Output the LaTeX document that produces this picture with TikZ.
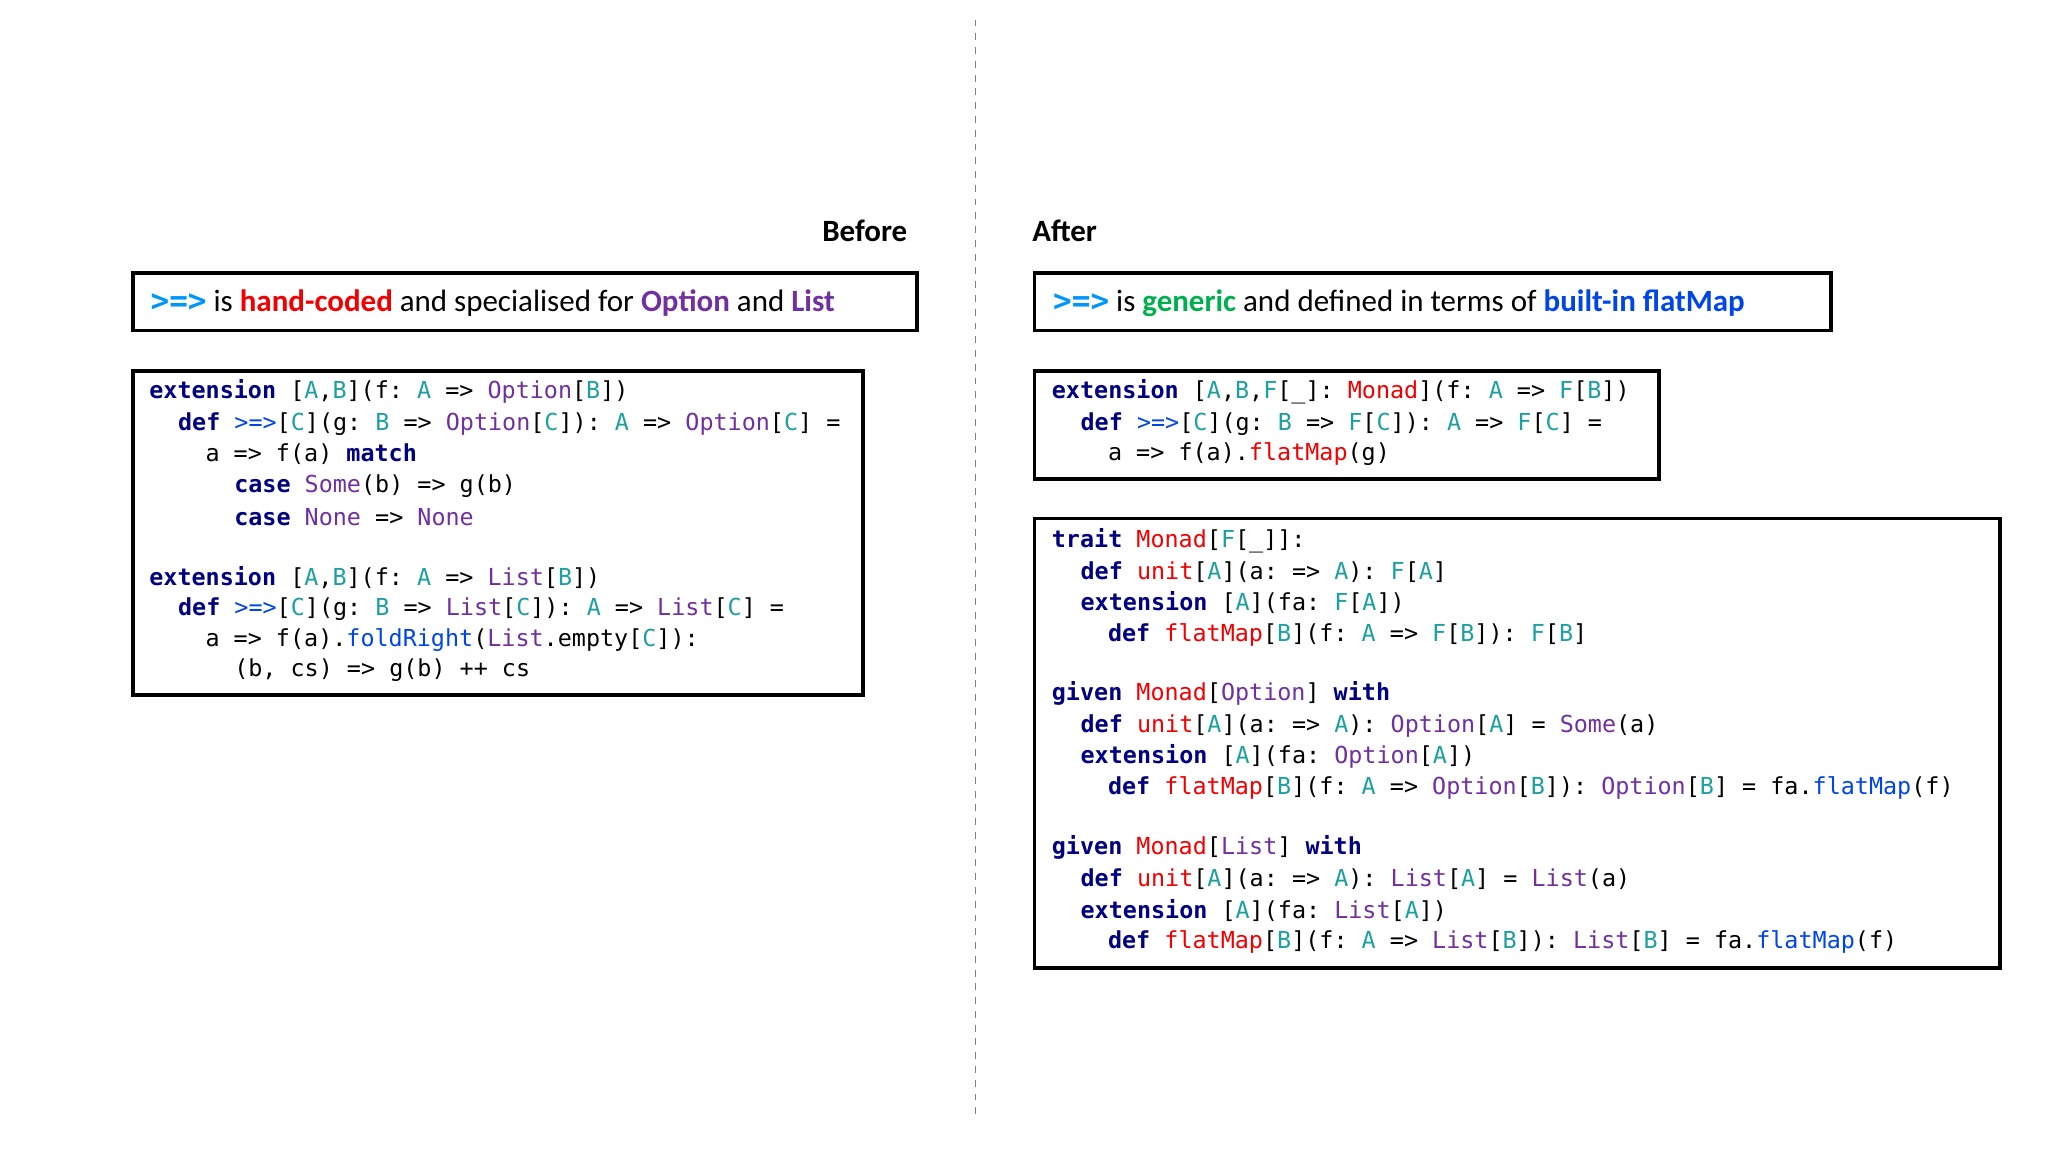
\documentclass[tikz,border=0pt]{standalone}
\usepackage{fontspec}
\setmainfont{Carlito}
\setmonofont{DejaVu Sans Mono}
\definecolor{kwc}{RGB}{0,0,128}
\definecolor{tpc}{RGB}{30,160,160}
\definecolor{puc}{RGB}{112,48,160}
\definecolor{rdc}{RGB}{240,0,0}
\definecolor{blc}{RGB}{0,70,230}
\definecolor{hbc}{RGB}{0,150,250}
\definecolor{grc}{RGB}{0,176,80}
\newcommand{\kw}[1]{\textbf{\textcolor{kwc}{#1}}}
\newcommand{\tp}[1]{\textcolor{tpc}{#1}}
\newcommand{\ty}[1]{\textcolor{puc}{#1}}
\newcommand{\rd}[1]{\textcolor{rdc}{#1}}
\newcommand{\bl}[1]{\textcolor{blc}{#1}}
\newcommand{\arr}{\textcolor{blc}{>=>}}
\begin{document}
\begin{tikzpicture}[x=0.02cm,y=-0.02cm,
  code/.style={anchor=west,inner sep=0pt,font=\ttfamily\fontsize{10.2}{12}\selectfont},
  hdr/.style={anchor=west,inner sep=0pt,font=\fontsize{13.5}{16}\selectfont},
  box/.style={draw,line width=1.7pt}]
\useasboundingbox[fill=white] (0,0) rectangle (1568,882);
\draw[gray,dashed,line width=0.6pt] (747,15) -- (747,855);
\node[anchor=east,inner sep=0pt,font=\bfseries\fontsize{13.5}{16}\selectfont] (before) at (695,177) {Before};
\node[anchor=west,inner sep=0pt,font=\bfseries\fontsize{13.5}{16}\selectfont] (after) at (790,177) {After};
% headers
\draw[box] (102,209) rectangle (702,253);
\node[hdr] (h1) at (115,232) {\textcolor{hbc}{\ttfamily\bfseries >=>} is \textbf{\rd{hand-coded}} and specialised for \textbf{\ty{Option}} and \textbf{\ty{List}}};
\draw[box] (792,209) rectangle (1402,253);
\node[hdr] (h2) at (806,232) {\textcolor{hbc}{\ttfamily\bfseries >=>} is \textbf{\textcolor{grc}{generic}} and defined in terms of \textbf{\bl{built-in flatMap}}};
% left code
\draw[box] (102,284) rectangle (661,532);
\node[code] (l1) at (114,300) {\kw{extension} [\tp{A},\tp{B}](f: \tp{A} => \ty{Option}[\tp{B}])};
\node[code] (l2) at (136,325) {\kw{def} \bl{>=>}[\tp{C}](g: \tp{B} => \ty{Option}[\tp{C}]): \tp{A} => \ty{Option}[\tp{C}] =};
\node[code] (l3) at (157,348) {a => f(a) \kw{match}};
\node[code] (l4) at (179,372) {\kw{case} \ty{Some}(b) => g(b)};
\node[code] (l5) at (179,396) {\kw{case} \ty{None} => \ty{None}};
\node[code] (l6) at (114,442) {\kw{extension} [\tp{A},\tp{B}](f: \tp{A} => \ty{List}[\tp{B}])};
\node[code] (l7) at (136,466) {\kw{def} \bl{>=>}[\tp{C}](g: \tp{B} => \ty{List}[\tp{C}]): \tp{A} => \ty{List}[\tp{C}] =};
\node[code] (l8) at (157,490) {a => f(a).\bl{foldRight}(\ty{List}.empty[\tp{C}]):};
\node[code] (l9) at (179,513) {(b, cs) => g(b) ++ cs};
% right code 1
\draw[box] (792,284) rectangle (1270,367);
\node[code] (r1) at (805,300) {\kw{extension} [\tp{A},\tp{B},\tp{F}[\_]: \rd{Monad}](f: \tp{A} => \tp{F}[\tp{B}])};
\node[code] (r2) at (827,325) {\kw{def} \bl{>=>}[\tp{C}](g: \tp{B} => \tp{F}[\tp{C}]): \tp{A} => \tp{F}[\tp{C}] =};
\node[code] (r3) at (848,348) {a => f(a).\rd{flatMap}(g)};
% right code 2
\draw[box] (792,397) rectangle (1531,741);
\node[code] (m1) at (805,414) {\kw{trait} \rd{Monad}[\tp{F}[\_]]:};
\node[code] (m2) at (827,438) {\kw{def} \rd{unit}[\tp{A}](a: => \tp{A}): \tp{F}[\tp{A}]};
\node[code] (m3) at (827,461) {\kw{extension} [\tp{A}](fa: \tp{F}[\tp{A}])};
\node[code] (m4) at (848,486) {\kw{def} \rd{flatMap}[\tp{B}](f: \tp{A} => \tp{F}[\tp{B}]): \tp{F}[\tp{B}]};
\node[code] (o1) at (805,531) {\kw{given} \rd{Monad}[\ty{Option}] \kw{with}};
\node[code] (o2) at (827,556) {\kw{def} \rd{unit}[\tp{A}](a: => \tp{A}): \ty{Option}[\tp{A}] = \ty{Some}(a)};
\node[code] (o3) at (827,579) {\kw{extension} [\tp{A}](fa: \ty{Option}[\tp{A}])};
\node[code] (o4) at (848,603) {\kw{def} \rd{flatMap}[\tp{B}](f: \tp{A} => \ty{Option}[\tp{B}]): \ty{Option}[\tp{B}] = fa.\bl{flatMap}(f)};
\node[code] (s1) at (805,649) {\kw{given} \rd{Monad}[\ty{List}] \kw{with}};
\node[code] (s2) at (827,673) {\kw{def} \rd{unit}[\tp{A}](a: => \tp{A}): \ty{List}[\tp{A}] = \ty{List}(a)};
\node[code] (s3) at (827,697) {\kw{extension} [\tp{A}](fa: \ty{List}[\tp{A}])};
\node[code] (s4) at (848,721) {\kw{def} \rd{flatMap}[\tp{B}](f: \tp{A} => \ty{List}[\tp{B}]): \ty{List}[\tp{B}] = fa.\bl{flatMap}(f)};
\end{tikzpicture}
\end{document}
